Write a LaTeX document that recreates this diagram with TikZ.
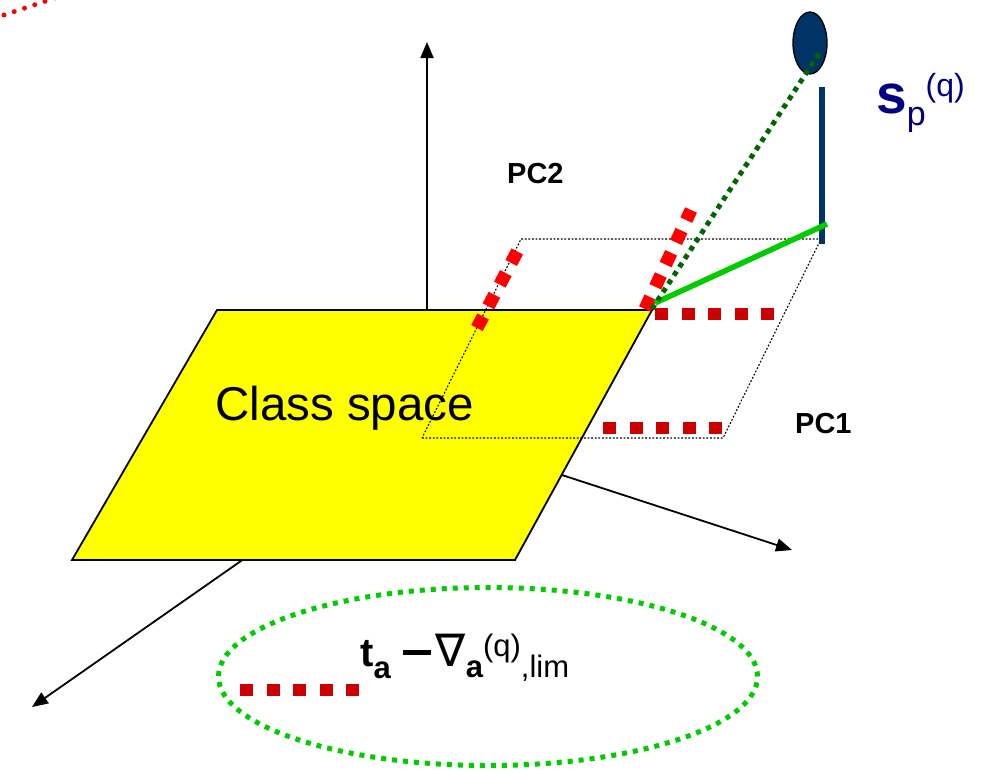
\documentclass[tikz,border=0pt]{standalone}
\usepackage{fontspec}
\setmainfont{Liberation Sans}
\newfontfamily\symfont{DejaVu Sans}
\usetikzlibrary{arrows.meta,positioning,shapes.geometric}
\definecolor{classyellow}{HTML}{FFFF00}
\definecolor{brred}{HTML}{FF0000}
\definecolor{dkred}{HTML}{CC0000}
\definecolor{dkgreen}{HTML}{006600}
\definecolor{brgreen}{HTML}{00CC00}
\definecolor{navy}{HTML}{003366}
\definecolor{labnavy}{HTML}{000080}
\newcommand\shift[3]{\raisebox{#1}{\fontsize{#2}{#2}\selectfont #3}}
\tikzset{pcaxis/.style={-{Triangle[length=16pt,width=13pt]},line width=1.8pt},
 plane/.style={draw,line width=1.8pt,fill=classyellow},
 pcframe/.style={line width=1.1pt,dash pattern=on 1.8pt off 1.8pt},
 redsq/.style={line width=13pt,dash pattern=on 13pt off 11.5pt,draw=brred},
 darksq/.style={line width=12.5pt,dash pattern=on 13pt off 13.5pt,draw=dkred},
 gdots/.style={line width=5pt,dash pattern=on 5pt off 5pt,draw=dkgreen},
 lab/.style={anchor=base west,inner sep=0pt}}
\begin{document}
\begin{tikzpicture}[x=1pt,y=-1pt]
\useasboundingbox (0,0) rectangle (988,769);
% axes behind the class plane
\coordinate (O) at (427,431);
\draw[pcaxis] (O)--(427,42);
\draw[pcaxis] (O)--(792,550);
\draw[pcaxis] (O)--(32,707);
\draw[plane] (217,310)--(652,310)--(515,560)--(72,560)--cycle;
\node[lab,font=\fontsize{47.5}{47.5}\selectfont] (cls) at (215,420) {Class space};
\draw[pcframe] (422,438)--(723,438)--(821,239)--(521,239)--cycle;
\node[lab,font=\bfseries\fontsize{29}{29}\selectfont] (pc2) at (507,183) {PC2};
\node[lab,font=\bfseries\fontsize{29}{29}\selectfont] (pc1) at (795,433) {PC1};
% limits
\draw[redsq] (477,328)--(518,250);
\draw[redsq] (645,309)--(691,210);
\draw[darksq] (655,314)--(775,314);
\draw[darksq] (603,428)--(723,428);
\draw[brred,line width=5pt,dash pattern=on 0pt off 10.8pt,line cap=round] (4,15)--(58,-3);
% sample and its projection
\node[ellipse,draw,line width=1.3pt,fill=navy,minimum width=34pt,minimum height=62pt,inner sep=0pt] (blob) at (810,43) {};
\draw[navy,line width=6pt] (822,87)--(822,244);
\draw[brgreen,line width=5.5pt] (655,303)--(827,224);
\draw[gdots] (652,309)--(820,52);
\node[lab,text=labnavy] (sp) at (876,113) {\fontsize{55}{55}\selectfont\bfseries s\shift{-12pt}{34}{\mdseries p}\shift{17pt}{32}{\mdseries (q)}};
% legend
\node[ellipse,draw=brgreen,line width=5pt,dash pattern=on 5pt off 6pt,minimum width=539pt,minimum height=178pt,inner sep=0pt] (ring) at (488,676.5) {};
\draw[darksq] (240,690)--(359,690);
\node[lab] (tlab) at (360,666) {\fontsize{40}{40}\selectfont\bfseries t\shift{-12pt}{31}{a}\hspace{12pt}\rule[11.5pt]{28pt}{5pt}\hspace{5pt}{\symfont\mdseries\fontsize{45}{45}\selectfont ∇}\shift{-11pt}{31}{a}\shift{10pt}{31}{\mdseries (q)}\shift{-11pt}{31}{\mdseries ,lim}};
\end{tikzpicture}
\end{document}
